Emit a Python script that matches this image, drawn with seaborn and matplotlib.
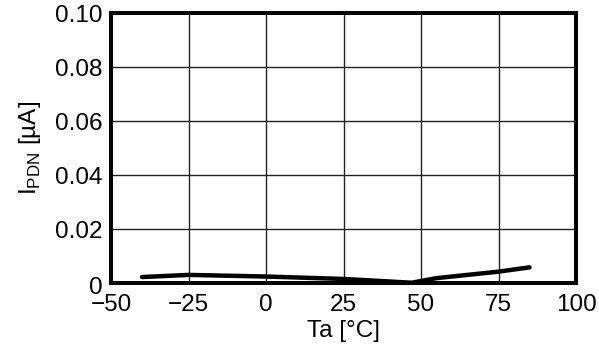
import matplotlib
matplotlib.use("Agg")
import matplotlib.pyplot as plt
import matplotlib.transforms as mtransforms
import seaborn as sns
import pandas as pd

temps = [-40, -25, 0, 25, 47, 55, 75, 85]
current = [0.0022, 0.0030, 0.0024, 0.0015, 0.0001, 0.0018, 0.0042, 0.0058]
x_ticks = [-50, -25, 0, 25, 50, 75, 100]
x_tick_labels = ["\u221250", "\u221225", "0", "25", "50", "75", "100"]
y_ticks = [0, 0.02, 0.04, 0.06, 0.08, 0.10]
y_tick_labels = ["0", "0.02", "0.04", "0.06", "0.08", "0.10"]

sns.set_theme(style="white")
plt.rcParams['font.family'] = ['Liberation Sans', 'DejaVu Sans']
plt.rcParams['mathtext.fontset'] = 'custom'
plt.rcParams['mathtext.rm'] = 'Liberation Sans'

fig = plt.figure(figsize=(5.99, 3.49), dpi=100)
ax = fig.add_axes([111/599, 1-283/349, 465/599, 270/349])

df = pd.DataFrame({"Ta": temps, "I": current})
sns.lineplot(data=df, x="Ta", y="I", sort=False, color="black", linewidth=3.2, ax=ax, zorder=3)

ax.set_xlim(-50, 100)
ax.set_ylim(0, 0.10)
ax.set_xticks(x_ticks)
ax.set_xticklabels(x_tick_labels)
ax.set_yticks(y_ticks)
ax.set_yticklabels(y_tick_labels)
ax.grid(True, color="#222222", linewidth=1.0)
ax.set_axisbelow(True)
for s in ax.spines.values():
    s.set_visible(True)
    s.set_color("black")
    s.set_linewidth(2.9)
ax.tick_params(axis="both", length=0, labelsize=17.5, colors="black")
ax.tick_params(axis="x", pad=8)
ax.tick_params(axis="y", pad=6)
# bottom "0" label sits slightly lower in the reference
lbl0 = ax.get_yticklabels()[0]
lbl0.set_transform(lbl0.get_transform() + mtransforms.ScaledTranslation(0, -3/100, fig.dpi_scale_trans))
ax.set_xlabel("Ta [°C]", fontsize=17.5, labelpad=3, color="black")
ax.set_ylabel(r"I$_\mathregular{PDN}$ [µA]", fontsize=17.5, labelpad=9, color="black")

fig.savefig("out.png", dpi=100)
